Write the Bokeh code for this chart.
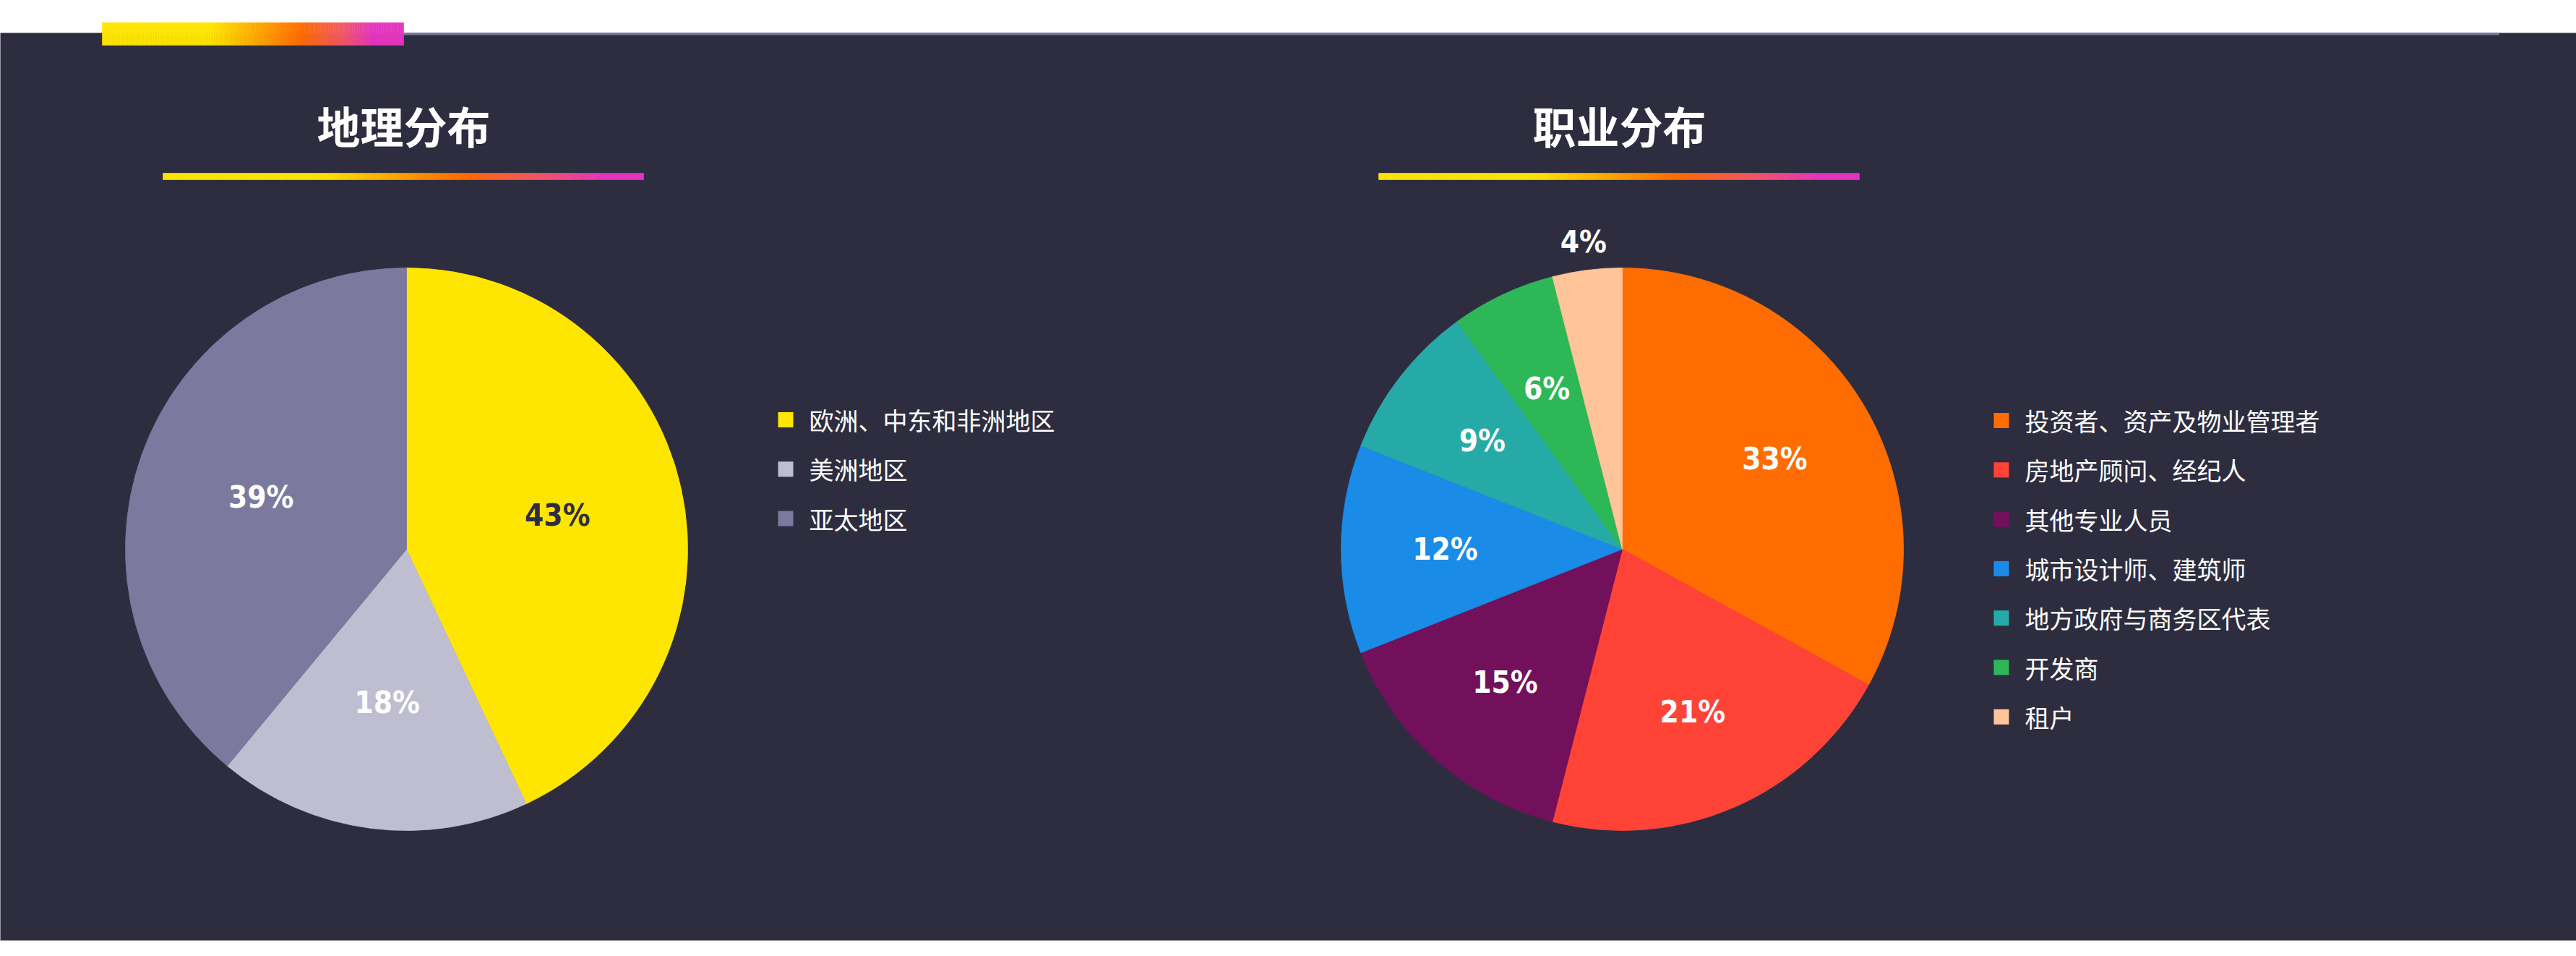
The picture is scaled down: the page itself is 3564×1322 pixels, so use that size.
import math
from bokeh.plotting import figure
from bokeh.models import Range1d, ColumnDataSource
from bokeh.core.properties import value
from bokeh.embed import file_html
from bokeh.resources import INLINE

# ---------------- data ----------------
geo_title = "地理分布"
geo_labels = ["欧洲、中东和非洲地区", "美洲地区", "亚太地区"]
geo_values = [43, 18, 39]
geo_colors = ["#FFE600", "#BFBDD0", "#7B7A9E"]
geo_text_colors = ["#2E2D40", "#FFFFFF", "#FFFFFF"]

job_title = "职业分布"
job_labels = ["投资者、资产及物业管理者", "房地产顾问、经纪人", "其他专业人员",
              "城市设计师、建筑师", "地方政府与商务区代表", "开发商", "租户"]
job_values = [33, 21, 15, 12, 9, 6, 4]
job_colors = ["#FF6D00", "#FF4337", "#73105B", "#1A8BE6", "#26AAA8", "#2DB757", "#FFC499"]
job_text_colors = ["#FFFFFF"] * 7

# ---------------- layout ----------------
W, H = 3564, 1322
BG = "#2E2D40"
CJK = "Noto Sans CJK SC"
NUM = "DejaVu Sans Condensed"


def Y(t):
    return H - t


p = figure(width=W, height=H, x_range=Range1d(0, W), y_range=Range1d(0, H),
           output_backend="svg", toolbar_location=None, min_border=0)
p.axis.visible = False
p.grid.visible = False
p.outline_line_color = None
p.background_fill_color = "#FFFFFF"
p.border_fill_color = "#FFFFFF"

# dark panel
p.quad(left=[-20], right=[W + 20], bottom=[Y(1300)], top=[Y(45)], fill_color=BG, line_color=None)
# thin gray line along the top of the panel
p.quad(left=[141], right=[3457], bottom=[Y(48)], top=[Y(45)], fill_color="#7B7A9E", line_color=None)


def hex2rgb(h):
    h = h.lstrip("#")
    return tuple(int(h[i:i + 2], 16) for i in (0, 2, 4))


def grad_color(t, stops):
    for (t0, c0), (t1, c1) in zip(stops[:-1], stops[1:]):
        if t0 <= t <= t1:
            f = 0 if t1 == t0 else (t - t0) / (t1 - t0)
            a, b = hex2rgb(c0), hex2rgb(c1)
            return "#%02x%02x%02x" % tuple(int(round(a[i] + (b[i] - a[i]) * f)) for i in range(3))
    return stops[-1][1]


def gradient_bar(x0, x1, ytop, ybot, stops, n=240):
    step = (x1 - x0) / n
    lefts = [x0 + i * step for i in range(n)]
    rights = [l + step for l in lefts]
    cols = [grad_color((i + 0.5) / n, stops) for i in range(n)]
    src = ColumnDataSource(dict(l=lefts, r=rights, c=cols))
    p.quad(left="l", right="r", bottom=Y(ybot), top=Y(ytop), fill_color="c", line_color="c",
           line_width=0.6, source=src)


top_stops = [(0, "#FFE600"), (0.36, "#FFE600"), (0.66, "#FF6D00"), (0.80, "#F25868"),
             (0.90, "#E535C0"), (1.0, "#E535C0")]
under_stops = [(0, "#FFE600"), (0.33, "#FFE600"), (0.62, "#FF6D00"), (0.78, "#F25868"),
               (0.92, "#E535C0"), (1.0, "#E535C0")]

gradient_bar(141, 558, 31, 62, top_stops)


def pie_panel(cx, cy, r, title, labels, values, colors, text_colors, legend_x, legend_y0, lab_frac):
    # title + underline
    p.text(x=[cx - 4], y=[Y(172)], text=[title], text_font=value(CJK), text_font_style="bold",
           text_font_size="60px", text_color="#FFFFFF", text_align="center", text_baseline="middle")
    gradient_bar(cx - 337, cx + 328, 239, 248, under_stops)

    total = float(sum(values))
    cum = 0.0
    starts, ends, lx, ly, txt = [], [], [], [], []
    for v in values:
        a0 = math.pi / 2 - 2 * math.pi * (cum + v) / total
        a1 = math.pi / 2 - 2 * math.pi * cum / total
        mid = (a0 + a1) / 2
        frac = lab_frac if v / total >= 0.05 else 1.1
        starts.append(a0)
        ends.append(a1)
        lx.append(cx + r * frac * math.cos(mid))
        ly.append(Y(cy) + r * frac * math.sin(mid))
        txt.append("%d%%" % round(100 * v / total))
        cum += v
    src = ColumnDataSource(dict(s=starts, e=ends, c=colors))
    p.wedge(x=cx, y=Y(cy), radius=r, start_angle="s", end_angle="e", fill_color="c",
            line_color="c", line_width=0.8, source=src)
    lsrc = ColumnDataSource(dict(x=lx, y=ly, t=txt, c=text_colors))
    p.text(x="x", y="y", text="t", text_color="c", text_font=value(NUM), text_font_style="bold",
           text_font_size="42px", text_align="center", text_baseline="middle", source=lsrc)

    # legend
    step = 68.3
    ys = [Y(legend_y0 + i * step) for i in range(len(labels))]
    xs = [legend_x + 10.5] * len(labels)
    gsrc = ColumnDataSource(dict(x=xs, y=ys, c=colors, t=labels,
                                 tx=[legend_x + 43] * len(labels)))
    p.rect(x="x", y="y", width=21, height=21, fill_color="c", line_color=None, source=gsrc)
    p.text(x="tx", y="y", text="t", text_font=value(CJK), text_font_size="34px",
           text_color="#FFFFFF", text_align="left", text_baseline="middle", source=gsrc)


pie_panel(562, 759, 389, geo_title, geo_labels, geo_values, geo_colors, geo_text_colors,
          1076, 580, 0.55)
pie_panel(2244, 759, 389, job_title, job_labels, job_values, job_colors, job_text_colors,
          2758, 581, 0.63)

open("out.html", "w").write(file_html(p, INLINE))
